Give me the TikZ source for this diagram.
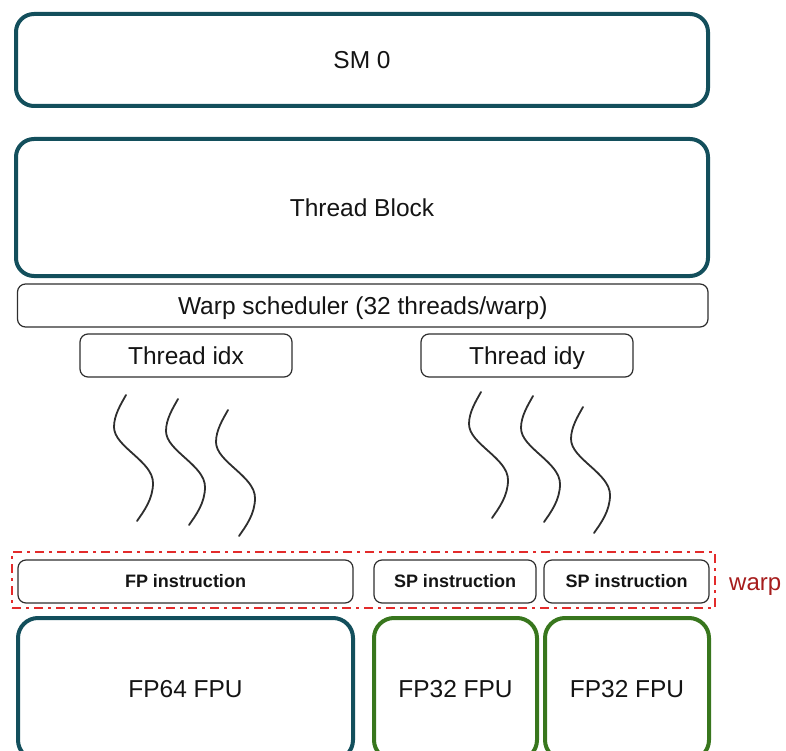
\documentclass[tikz,border=0pt]{standalone}
\usepackage{fontspec}
\setmainfont{Liberation Sans}
\definecolor{smteal}{HTML}{134F5C}
\definecolor{fpgreen}{HTML}{38761D}
\definecolor{warpred}{HTML}{E32B2B}
\definecolor{warptext}{HTML}{A61C1C}
\definecolor{thinline}{HTML}{2E2E2E}
\definecolor{inktext}{HTML}{141414}
\tikzset{
  bigbox/.style={draw=smteal, line width=4pt, rounded corners=18pt, rectangle,
    inner sep=0pt, font=\fontsize{24.5}{28}\selectfont, text=inktext,
    text height=17.5pt, text depth=0pt},
  fpubox/.style={bigbox, rounded corners=20pt},
  sp32box/.style={fpubox, draw=fpgreen},
  thinbox/.style={draw=thinline, line width=1.2pt, rounded corners=8pt, rectangle,
    inner sep=0pt, font=\fontsize{24.5}{28}\selectfont, text=inktext,
    text height=17.5pt, text depth=0pt},
  instrbox/.style={thinbox, font=\fontsize{18}{21}\bfseries\selectfont,
    text height=12.9pt},
  warpframe/.style={draw=warpred, line width=2.5pt,
    dash pattern=on 9pt off 5pt on 3pt off 5pt, rectangle, inner sep=0pt},
  wave/.style={draw=thinline, line width=1.8pt, line cap=round},
  thread/.pic={
    \draw[wave] (0,0) .. controls (-5,9) and (-12,20) .. (-12,32)
      .. controls (-12,52) and (27,66) .. (27,88)
      .. controls (27,104) and (18,116) .. (11,126);
  }
}
\begin{document}
\begin{tikzpicture}[x=1pt,y=-1pt]
\useasboundingbox (0,0) rectangle (786,751);
\clip (0,0) rectangle (786,751);

% streaming multiprocessor and the block it runs
\node[bigbox, minimum width=692pt, minimum height=92pt] (sm) at (362,60) {SM 0};
\node[bigbox, minimum width=692pt, minimum height=137pt] (block) at (362,207.5) {Thread Block};

% scheduler and thread indices
\node[thinbox, minimum width=690.5pt, minimum height=43pt] (sched) at (362.75,305.5) {Warp scheduler (32 threads/warp)};
\node[thinbox, minimum width=212pt, minimum height=43pt] (tidx) at (186,355.5) {Thread idx};
\node[thinbox, minimum width=212pt, minimum height=43pt] (tidy) at (527,355.5) {Thread idy};

% threads
\pic at (126,395) {thread};
\pic at (178,399) {thread};
\pic at (228,410) {thread};
\pic at (481,392) {thread};
\pic at (533,396) {thread};
\pic at (583,407) {thread};

% one warp of instructions
\node[warpframe, minimum width=703pt, minimum height=56pt] (warpbox) at (363.5,580) {};
\node[instrbox, minimum width=335pt, minimum height=43pt] (fpi) at (185.5,581.5) {FP instruction};
\node[instrbox, minimum width=162pt, minimum height=43pt] (spa) at (455,581.5) {SP instruction};
\node[instrbox, minimum width=165pt, minimum height=43pt] (spb) at (626.5,581.5) {SP instruction};
\node[anchor=base west, inner sep=0pt, text=warptext, font=\fontsize{24}{28}\selectfont] (warplabel) at (729,590) {warp};

% floating point units
\node[fpubox, minimum width=335pt, minimum height=142pt] (fp64) at (185.5,689) {FP64 FPU};
\node[sp32box, minimum width=163pt, minimum height=142pt] (fp32a) at (455.5,689) {FP32 FPU};
\node[sp32box, minimum width=164pt, minimum height=142pt] (fp32b) at (627,689) {FP32 FPU};
\end{tikzpicture}
\end{document}
